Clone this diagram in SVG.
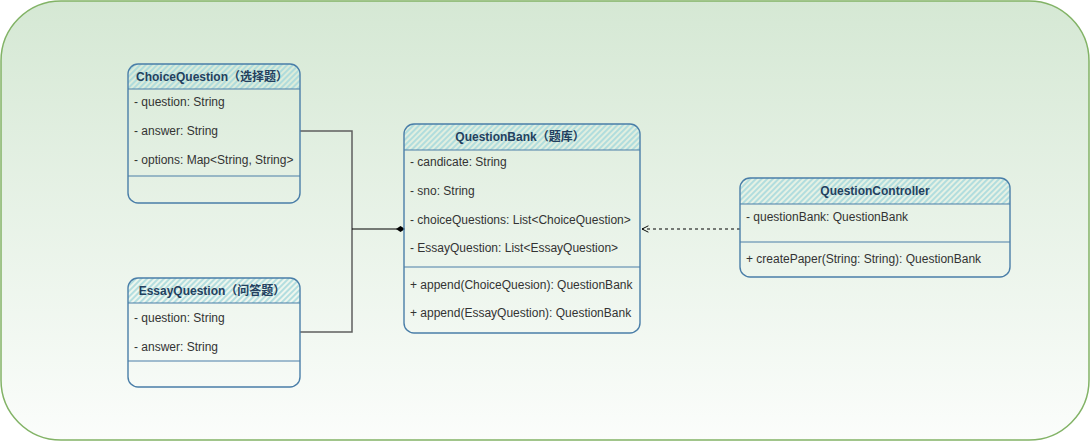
<svg xmlns="http://www.w3.org/2000/svg" width="1091" height="442" viewBox="0 0 1091 442">
  <defs>
    <linearGradient id="bg" x1="0" y1="0" x2="0" y2="1">
      <stop offset="0" stop-color="#d5e8d4"/>
      <stop offset="1" stop-color="#fbfdfb"/>
    </linearGradient>
    <pattern id="hatch" patternUnits="userSpaceOnUse" width="4" height="4" patternTransform="rotate(45)">
      <line x1="1" y1="-1" x2="1" y2="5" stroke="#a4d8dc" stroke-width="1.6"/>
    </pattern>
    <marker id="open" viewBox="0 0 10 10" refX="9" refY="5" markerWidth="8" markerHeight="8" orient="auto" markerUnits="userSpaceOnUse">
      <polyline points="1,1 9,5 1,9" fill="none" stroke="#000" stroke-width="1.2"/>
    </marker>
  </defs>
  <style>
    .box { fill: none; stroke: #4a7ea8; stroke-width: 1.4; }
    .hdr { fill: url(#hatch); stroke: none; }
    .sep { stroke: #4a7ea8; stroke-width: 1.2; }
    .title { font-family: "Liberation Sans", "Noto Sans CJK SC", sans-serif; font-size: 12px; font-weight: bold; fill: #23405e; text-anchor: middle; }
    .row { font-family: "Liberation Sans", "Noto Sans CJK SC", sans-serif; font-size: 12px; fill: #333333; }
    .elbow { fill: none; stroke: #5f5f5f; stroke-width: 1.5; }
    .link { fill: none; stroke: #000; stroke-width: 1.2; }
  </style>

  <rect x="1" y="1" width="1088" height="439" rx="60" ry="60" fill="url(#bg)" stroke="#82b366" stroke-width="1.5"/>

  <g id="connectors">
    <polyline class="elbow" points="300,131 352,131 352,229"/>
    <polyline class="elbow" points="300,332 352,332 352,229"/>
    <line class="link" x1="352" y1="229" x2="397" y2="229"/>
    <polygon points="396,229 400.5,226 405,229 400.5,232" fill="#000"/>
    <line class="link" x1="740" y1="229" x2="642" y2="229" stroke-dasharray="3,3" marker-end="url(#open)"/>
  </g>

  <g id="ChoiceQuestion">
    <path class="hdr" d="M128,89 V74 Q128,64 138,64 H290 Q300,64 300,74 V89 Z"/>
    <rect class="box" x="128" y="64" width="172" height="139" rx="10" ry="10"/>
    <line class="sep" x1="128" y1="89" x2="300" y2="89"/>
    <line class="sep" x1="128" y1="176" x2="300" y2="176"/>
    <text class="title" x="212" y="81">ChoiceQuestion（选择题）</text>
    <text class="row" x="134" y="106">- question: String</text>
    <text class="row" x="134" y="135">- answer: String</text>
    <text class="row" x="134" y="164">- options: Map&lt;String, String&gt;</text>
  </g>

  <g id="EssayQuestion">
    <path class="hdr" d="M128,303 V288 Q128,278 138,278 H290 Q300,278 300,288 V303 Z"/>
    <rect class="box" x="128" y="278" width="172" height="109" rx="10" ry="10"/>
    <line class="sep" x1="128" y1="303" x2="300" y2="303"/>
    <line class="sep" x1="128" y1="361" x2="300" y2="361"/>
    <text class="title" x="212" y="295">EssayQuestion（问答题）</text>
    <text class="row" x="134" y="322">- question: String</text>
    <text class="row" x="134" y="351">- answer: String</text>
  </g>

  <g id="QuestionBank">
    <path class="hdr" d="M404,150 V134 Q404,124 414,124 H630 Q640,124 640,134 V150 Z"/>
    <rect class="box" x="404" y="124" width="236" height="209" rx="10" ry="10"/>
    <line class="sep" x1="404" y1="150" x2="640" y2="150"/>
    <line class="sep" x1="404" y1="267" x2="640" y2="267"/>
    <text class="title" x="520" y="141">QuestionBank（题库）</text>
    <text class="row" x="410" y="166">- candicate: String</text>
    <text class="row" x="410" y="195">- sno: String</text>
    <text class="row" x="410" y="224">- choiceQuestions: List&lt;ChoiceQuestion&gt;</text>
    <text class="row" x="410" y="252">- EssayQuestion: List&lt;EssayQuestion&gt;</text>
    <text class="row" x="410" y="289">+ append(ChoiceQuesion): QuestionBank</text>
    <text class="row" x="410" y="317">+ append(EssayQuestion): QuestionBank</text>
  </g>

  <g id="QuestionController">
    <path class="hdr" d="M740,204 V188 Q740,178 750,178 H1000 Q1010,178 1010,188 V204 Z"/>
    <rect class="box" x="740" y="178" width="270" height="99" rx="10" ry="10"/>
    <line class="sep" x1="740" y1="204" x2="1010" y2="204"/>
    <line class="sep" x1="740" y1="242" x2="1010" y2="242"/>
    <text class="title" x="875" y="195">QuestionController</text>
    <text class="row" x="746" y="221">- questionBank: QuestionBank</text>
    <text class="row" x="746" y="263">+ createPaper(String: String): QuestionBank</text>
  </g>
</svg>
